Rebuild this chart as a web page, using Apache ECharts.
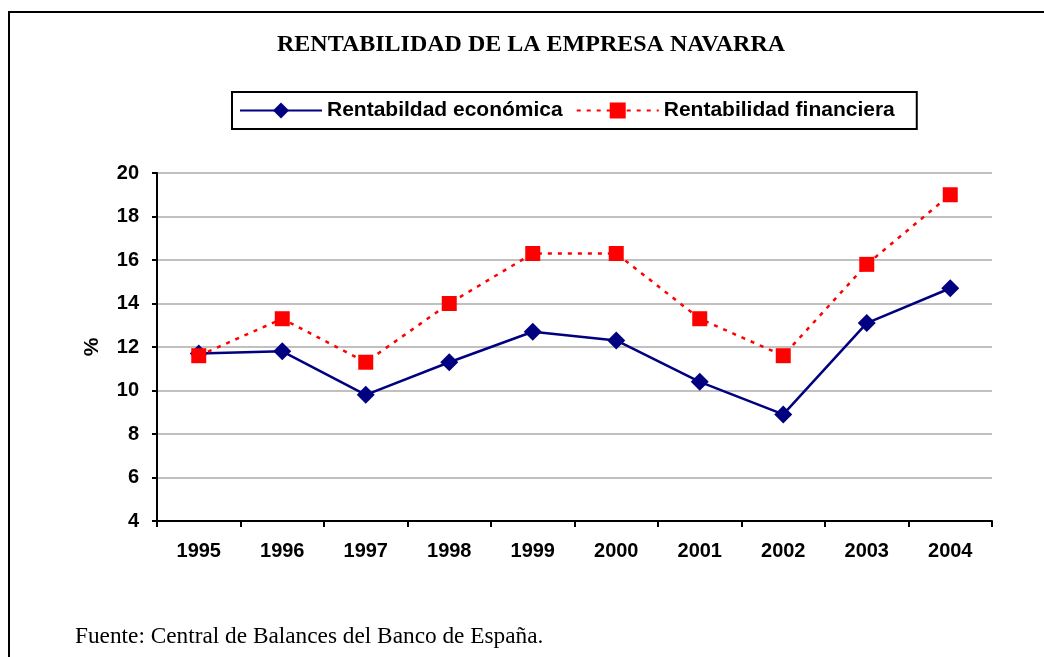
<!DOCTYPE html>
<html>
<head>
    <meta charset="utf-8">
    <title>Rentabilidad de la empresa navarra</title>
    <script src="https://cdn.jsdelivr.net/npm/echarts@6/dist/echarts.min.js"></script>
    <style>
        html, body { margin: 0; padding: 0; background: #fff; }
        #chart { width: 1044px; height: 657px; }
        /* marco del gráfico: solo borde izquierdo y superior visibles */
        #frame {
            position: absolute;
            left: 8px;
            top: 11px;
            width: 1100px;
            height: 700px;
            border-left: 2px solid #000;
            border-top: 2px solid #000;
            pointer-events: none;
        }
    </style>
</head>
<body>
    <div id="chart"></div>
    <div id="frame"></div>

    <script>
        const years = ['1995', '1996', '1997', '1998', '1999', '2000', '2001', '2002', '2003', '2004'];
        const rentEconomica = [11.7, 11.8, 9.8, 11.3, 12.7, 12.3, 10.4, 8.9, 13.1, 14.7];
        const rentFinanciera = [11.6, 13.3, 11.3, 14.0, 16.3, 16.3, 13.3, 11.6, 15.8, 19.0];

        const sans = 'Liberation Sans, Arial, sans-serif';
        const serif = 'Liberation Serif, Times New Roman, serif';

        const chart = echarts.init(document.getElementById('chart'));

        chart.setOption({
            animation: false,
            graphic: [
                {
                    type: 'text',
                    left: 277,
                    top: 33,
                    style: {
                        text: 'RENTABILIDAD DE LA EMPRESA NAVARRA',
                        font: 'bold 24px ' + serif,
                        fill: '#000'
                    }
                },
                {
                    type: 'text',
                    left: 75,
                    top: 625,
                    style: {
                        text: 'Fuente: Central de Balances del Banco de España.',
                        font: '23.3px ' + serif,
                        fill: '#000'
                    }
                }
            ],
            legend: {
                left: 232,
                top: 92,
                orient: 'horizontal',
                borderColor: '#000',
                borderWidth: 2,
                padding: [8, 22, 8, 7],
                itemWidth: 82,
                itemHeight: 20,
                itemGap: 13,
                textStyle: { fontFamily: sans, fontWeight: 'bold', fontSize: 21, color: '#000' },
                data: ['Rentabildad económica', 'Rentabilidad financiera']
            },
            grid: { left: 157, right: 52, top: 173, bottom: 136 },
            xAxis: {
                type: 'category',
                data: years,
                boundaryGap: true,
                axisLine: { lineStyle: { color: '#000', width: 2 } },
                axisTick: { show: true, length: 6, lineStyle: { color: '#000', width: 2 } },
                axisLabel: { margin: 20, fontFamily: sans, fontWeight: 'bold', fontSize: 20, color: '#000' },
                splitLine: { show: false }
            },
            yAxis: {
                type: 'value',
                min: 4,
                max: 20,
                interval: 2,
                name: '%',
                nameLocation: 'middle',
                nameRotate: 90,
                nameGap: 54,
                nameTextStyle: { fontFamily: sans, fontWeight: 'bold', fontSize: 21, color: '#000' },
                axisLine: { show: true, lineStyle: { color: '#000', width: 2 } },
                axisTick: { show: true, length: 5, lineStyle: { color: '#000', width: 2 } },
                axisLabel: { margin: 18, fontFamily: sans, fontWeight: 'bold', fontSize: 20, color: '#000' },
                splitLine: { lineStyle: { color: '#c0c0c0', width: 2 } }
            },
            series: [
                {
                    name: 'Rentabildad económica',
                    type: 'line',
                    data: rentEconomica,
                    symbol: 'diamond',
                    symbolSize: 18,
                    itemStyle: { color: '#000080' },
                    lineStyle: { color: '#000080', width: 2.5 }
                },
                {
                    name: 'Rentabilidad financiera',
                    type: 'line',
                    data: rentFinanciera,
                    symbol: 'rect',
                    symbolSize: 15,
                    itemStyle: { color: '#ff0000' },
                    lineStyle: { color: '#ff0000', width: 2.5, type: [4, 6] }
                }
            ]
        });
    </script>
</body>
</html>
